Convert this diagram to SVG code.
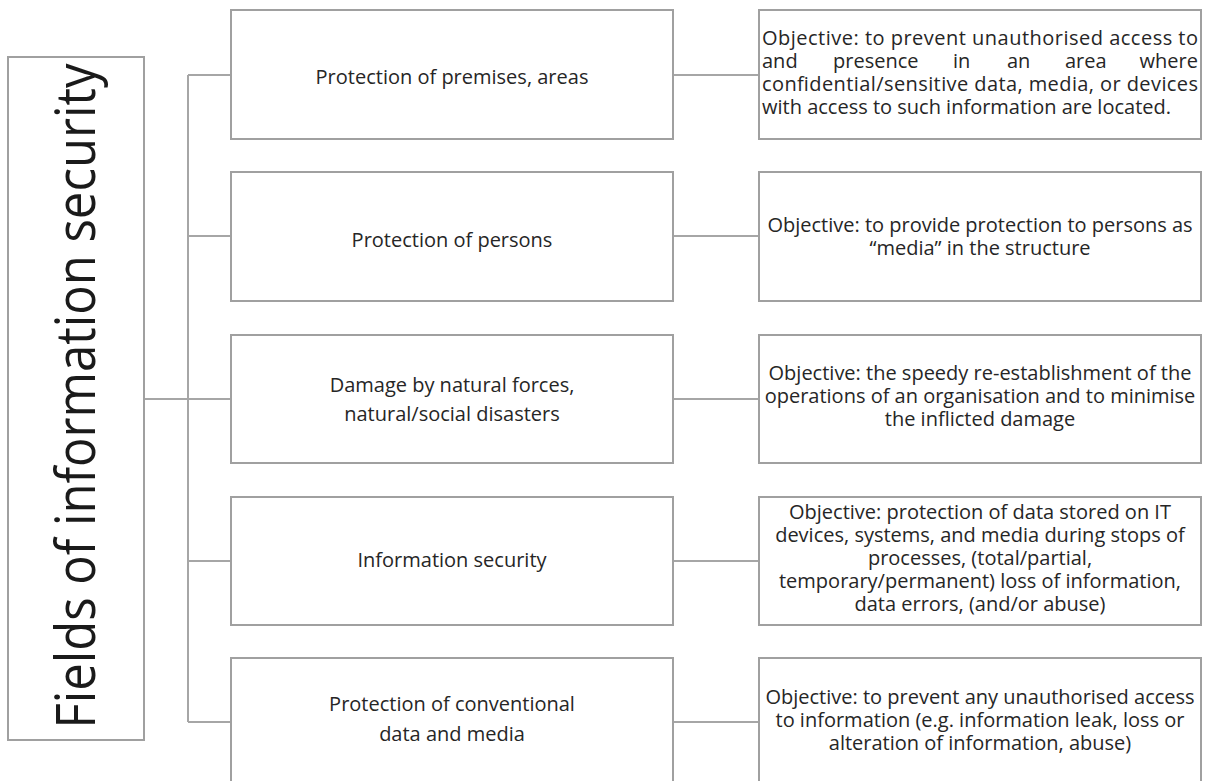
<svg xmlns="http://www.w3.org/2000/svg" width="1206" height="781" viewBox="0 0 1206 781">
<style>
.box{fill:#fff;stroke:#a0a0a0;stroke-width:2}
.con{fill:none;stroke:#a6a6a6;stroke-width:2}
.t{font-family:"Open Sans","Liberation Sans",sans-serif;font-size:20px;fill:#262626}
.c{text-anchor:middle}
.e{text-anchor:end}
.title{font-family:"Open Sans","Liberation Sans",sans-serif;font-weight:400;font-size:54px;fill:#1a1a1a;text-anchor:middle}
</style>
<rect width="1206" height="781" fill="#fff"/>
<g id="connectors">
<path class="con" d="M144 399 H231"/>
<path class="con" d="M188 75 V722"/>
<path class="con" d="M188 75 H231 M188 236 H231 M188 561 H231 M188 722 H231"/>
<path class="con" d="M673 75 H759 M673 236 H759 M673 399 H759 M673 561 H759 M673 722 H759"/>
</g>
<g id="root">
<rect class="box" x="8" y="57" width="136" height="683"/>
<text class="title" transform="translate(95 396) rotate(-90)" textLength="665" lengthAdjust="spacingAndGlyphs">Fields of information security</text>
</g>
<g id="field1">
<rect class="box" x="231" y="10" width="442" height="129"/>
<text class="t c" x="452" y="84">Protection of premises, areas</text>
</g>
<g id="field2">
<rect class="box" x="231" y="172" width="442" height="129"/>
<text class="t c" x="452" y="247">Protection of persons</text>
</g>
<g id="field3">
<rect class="box" x="231" y="335" width="442" height="128"/>
<text class="t c" x="452" y="392">Damage by natural forces,</text>
<text class="t c" x="452" y="421">natural/social disasters</text>
</g>
<g id="field4">
<rect class="box" x="231" y="497" width="442" height="128"/>
<text class="t c" x="452" y="567">Information security</text>
</g>
<g id="field5">
<rect class="box" x="231" y="658" width="442" height="130"/>
<text class="t c" x="452" y="711">Protection of conventional</text>
<text class="t c" x="452" y="741">data and media</text>
</g>
<g id="obj1">
<rect class="box" x="759" y="10" width="442" height="129"/>
<text class="t" x="762" y="45" textLength="436" lengthAdjust="spacing">Objective: to prevent unauthorised access to</text>
<text class="t" x="762" y="68">and</text>
<text class="t" x="833" y="68">presence</text>
<text class="t" x="953" y="68">in</text>
<text class="t" x="1007" y="68">an</text>
<text class="t" x="1065" y="68">area</text>
<text class="t e" x="1198" y="68">where</text>
<text class="t" x="762" y="91" textLength="436" lengthAdjust="spacing">confidential/sensitive data, media, or devices</text>
<text class="t" x="762" y="114">with access to such information are located.</text>
</g>
<g id="obj2">
<rect class="box" x="759" y="172" width="442" height="129"/>
<text class="t c" x="980" y="232">Objective: to provide protection to persons as</text>
<text class="t c" x="980" y="255">“media” in the structure</text>
</g>
<g id="obj3">
<rect class="box" x="759" y="335" width="442" height="128"/>
<text class="t c" x="980" y="380">Objective: the speedy re-establishment of the</text>
<text class="t c" x="980" y="403">operations of an organisation and to minimise</text>
<text class="t c" x="980" y="426">the inflicted damage</text>
</g>
<g id="obj4">
<rect class="box" x="759" y="497" width="442" height="128"/>
<text class="t c" x="980" y="519">Objective: protection of data stored on IT</text>
<text class="t c" x="980" y="542">devices, systems, and media during stops of</text>
<text class="t c" x="980" y="565">processes, (total/partial,</text>
<text class="t c" x="980" y="588">temporary/permanent) loss of information,</text>
<text class="t c" x="980" y="611">data errors, (and/or abuse)</text>
</g>
<g id="obj5">
<rect class="box" x="759" y="658" width="442" height="130"/>
<text class="t c" x="980" y="704">Objective: to prevent any unauthorised access</text>
<text class="t c" x="980" y="727">to information (e.g. information leak, loss or</text>
<text class="t c" x="980" y="750">alteration of information, abuse)</text>
</g>
</svg>
